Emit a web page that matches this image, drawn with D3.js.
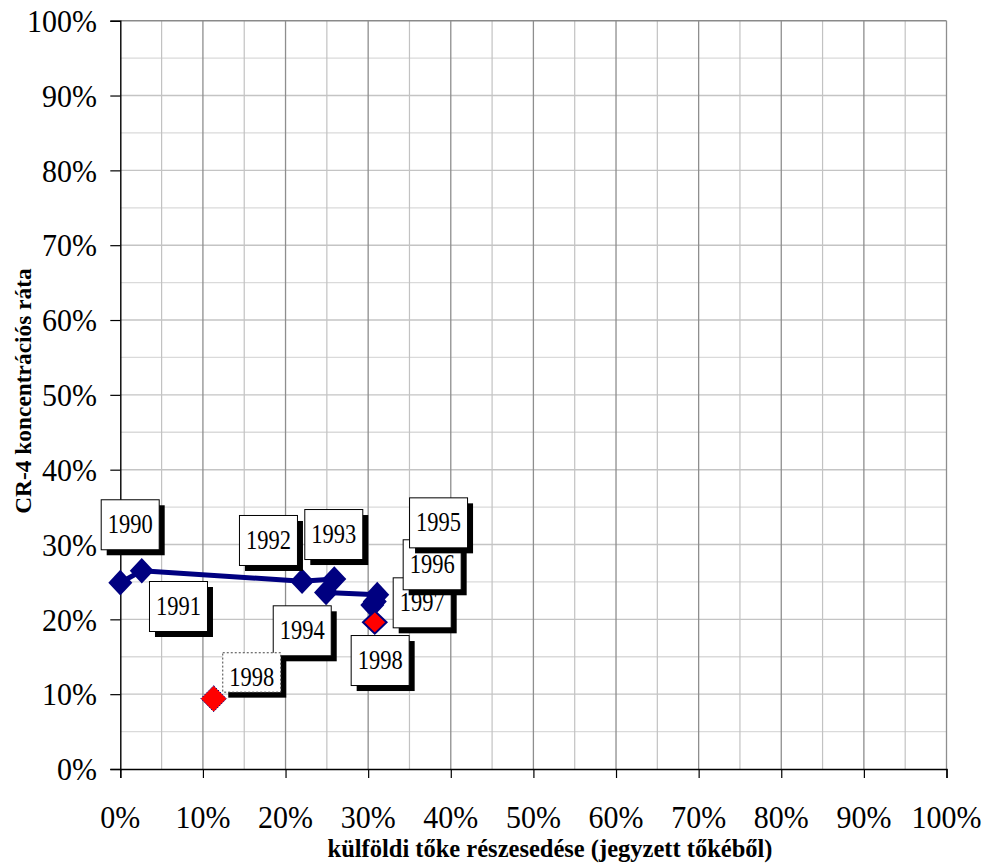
<!DOCTYPE html>
<html>
<head>
<meta charset="utf-8">
<script src="https://cdn.jsdelivr.net/npm/d3@7/dist/d3.min.js"></script>
<style>
  html, body { margin: 0; padding: 0; background: #fff; }
  svg { display: block; }
</style>
</head>
<body>
<svg id="chart" width="991" height="865"></svg>
<script>
// ---- data ----
const years = ["1990", "1991", "1992", "1993", "1994", "1995", "1996", "1997"];
const foreignShare = [0, 2.6, 22.0, 25.9, 24.9, 31.1, 30.8, 30.5];
const cr4 = [24.9, 26.5, 25.1, 25.4, 23.6, 23.3, 22.4, 21.9];

const years1998 = ["1998", "1998"];
const foreignShare1998 = [30.8, 11.3];
const cr41998 = [19.6, 9.4];

const tickValues = [0, 10, 20, 30, 40, 50, 60, 70, 80, 90, 100];
const tickLabels = ["0%", "10%", "20%", "30%", "40%", "50%", "60%", "70%", "80%", "90%", "100%"];
const minorValues = [5, 15, 25, 35, 45, 55, 65, 75, 85, 95];

const xTitle = "külföldi tőke részesedése (jegyzett tőkéből)";
const yTitle = "CR-4 koncentrációs ráta";

// ---- layout (label box offsets from their points, px) ----
const labelOffsets = [[-19.6, -83.4], [7.2, 10.3], [-63.1, -66.2], [-30, -69.9], [-53.3, 12.9], [31.8, -97.3], [27.9, -62.1], [20.4, -27.8]];
const labelOffsets1998 = [[-24.1, 12.7], [8.6, -46.4]];

const svg = d3.select("#chart");
const x = d3.scaleLinear().domain([0, 100]).range([120.3, 946.5]);
const y = d3.scaleLinear().domain([0, 100]).range([769, 20.7]);
const serif = "'Liberation Serif', 'Times New Roman', serif";

// grid
const g = svg.append("g");
g.selectAll(".hmin").data(minorValues).join("line")
  .attr("x1", x(0)).attr("x2", x(100)).attr("y1", d => y(d)).attr("y2", d => y(d))
  .attr("stroke", "#dadada").attr("stroke-width", 1.3);
g.selectAll(".vmin").data(minorValues).join("line")
  .attr("y1", y(0)).attr("y2", y(100)).attr("x1", d => x(d)).attr("x2", d => x(d))
  .attr("stroke", "#c2c2c2").attr("stroke-width", 1.2);
g.selectAll(".hmaj").data(tickValues.slice(1)).join("line")
  .attr("x1", x(0)).attr("x2", x(100)).attr("y1", d => y(d)).attr("y2", d => y(d))
  .attr("stroke", d => d === 100 ? "#8a8a8a" : "#c4c4c4").attr("stroke-width", 1.4);
g.selectAll(".vmaj").data(tickValues.slice(1)).join("line")
  .attr("y1", y(0)).attr("y2", y(100)).attr("x1", d => x(d)).attr("x2", d => x(d))
  .attr("stroke", "#8e8e8e").attr("stroke-width", 1.3);

// axes
const xAxis = d3.axisBottom(x).tickValues(tickValues).tickSize(9).tickFormat("");
const yAxis = d3.axisLeft(y).tickValues(tickValues).tickSize(10).tickFormat("");
const gx = svg.append("g").attr("transform", `translate(0,${y(0)})`).call(xAxis);
const gy = svg.append("g").attr("transform", `translate(${x(0)},0)`).call(yAxis);
[gx, gy].forEach(a => {
  a.select(".domain").attr("stroke", "#000").attr("stroke-width", 1.4);
  a.selectAll(".tick line").attr("stroke", "#000").attr("stroke-width", 1.2);
});

// tick labels
svg.append("g").selectAll("text").data(tickValues).join("text")
  .attr("transform", d => `translate(${x(d)},828) scale(1,1.07)`)
  .attr("text-anchor", "middle")
  .style("font-family", serif).style("font-size", "30px").attr("fill", "#000")
  .text((d, i) => tickLabels[i]);
svg.append("g").selectAll("text").data(tickValues).join("text")
  .attr("transform", d => `translate(97,${y(d) + 11.3}) scale(1,1.07)`)
  .attr("text-anchor", "end")
  .style("font-family", serif).style("font-size", "30px").attr("fill", "#000")
  .text((d, i) => tickLabels[i]);

// titles
svg.append("text")
  .attr("x", 550).attr("y", 857).attr("text-anchor", "middle")
  .style("font-family", serif).style("font-size", "24.5px").style("font-weight", "bold")
  .text(xTitle);
svg.append("text")
  .attr("transform", "translate(31,391) rotate(-90)").attr("text-anchor", "middle")
  .style("font-family", serif).style("font-size", "23.4px").style("font-weight", "bold")
  .text(yTitle);

// series line
const pts = years.map((yr, i) => ({ yr, xv: foreignShare[i], yv: cr4[i], off: labelOffsets[i] }));
const pts98 = years1998.map((yr, i) => ({ yr, xv: foreignShare1998[i], yv: cr41998[i], off: labelOffsets1998[i], dotted: i === 1 }));

svg.append("path").datum(pts)
  .attr("d", d3.line().x(d => x(d.xv)).y(d => y(d.yv)))
  .attr("fill", "none").attr("stroke", "#000080").attr("stroke-width", 5).attr("stroke-linejoin", "round");

const diamond = (hw, hh) => `M0,${-hh}L${hw},0L0,${hh}L${-hw},0Z`;
svg.append("g").selectAll("path").data(pts).join("path")
  .attr("transform", d => `translate(${x(d.xv)},${y(d.yv)})`)
  .attr("d", diamond(12, 12.8)).attr("fill", "#000080");

svg.append("g").selectAll("path").data(pts98).join("path")
  .attr("transform", d => `translate(${x(d.xv)},${y(d.yv)})`)
  .attr("d", d => d.dotted ? diamond(12.8, 13) : diamond(11.8, 11.3))
  .attr("fill", "#ff0000").attr("stroke", "#000080")
  .attr("stroke-width", d => d.dotted ? 1 : 2)
  .attr("stroke-dasharray", d => d.dotted ? "1.5,1.5" : null);

// labels
function drawLabels(data) {
  const lg = svg.append("g").selectAll("g").data(data).join("g")
    .attr("transform", d => `translate(${x(d.xv) + d.off[0]},${y(d.yv) + d.off[1]})`);
  lg.append("rect").attr("x", 6).attr("y", 6).attr("width", 58).attr("height", d => d.dotted ? 39.4 : 50).attr("fill", "#000");
  lg.append("rect").attr("x", 0.5).attr("y", 0.5).attr("width", 58).attr("height", d => d.dotted ? 39.4 : 50)
    .attr("fill", "#fff").attr("stroke", d => d.dotted ? "#444" : "#000").attr("stroke-width", 1)
    .attr("stroke-dasharray", d => d.dotted ? "2,2" : null);
  lg.append("text")
    .attr("transform", "translate(29.5,34) scale(1,1.17)")
    .attr("text-anchor", "middle")
    .style("font-family", serif).style("font-size", "22.5px").attr("fill", "#000")
    .text(d => d.yr);
}
drawLabels(pts.slice().reverse());
drawLabels(pts98);
</script>
</body>
</html>
